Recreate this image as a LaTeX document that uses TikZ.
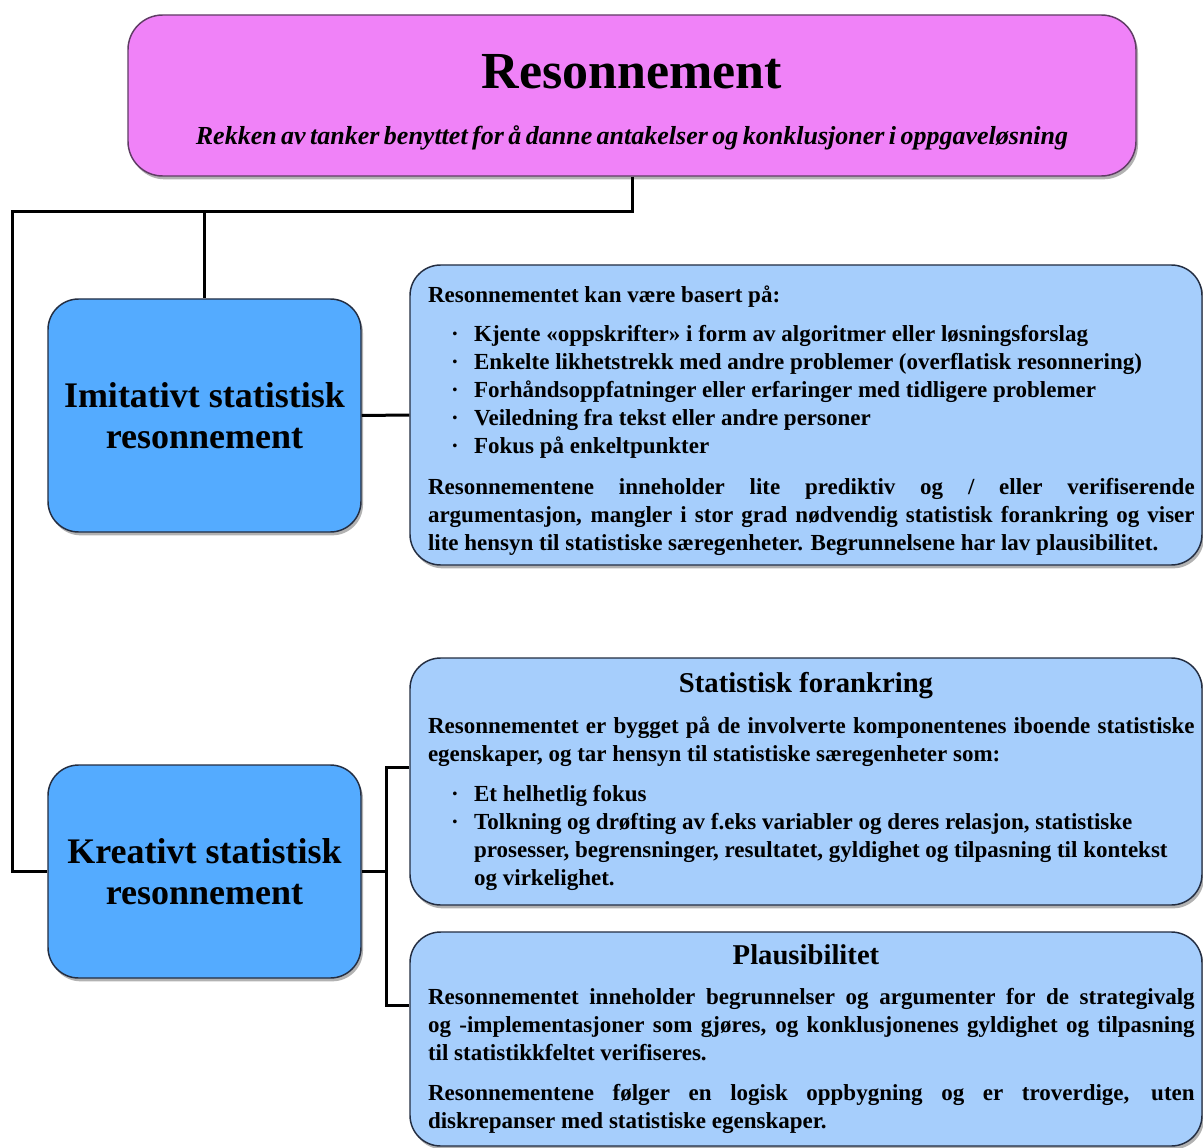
\documentclass[tikz,border=0pt]{standalone}
\usepackage{fontspec}
\setmainfont{Liberation Serif}
\usetikzlibrary{shadows}
\definecolor{pinkfill}{RGB}{240,130,248}
\definecolor{pinkdraw}{RGB}{95,60,100}
\definecolor{bluedark}{RGB}{84,171,255}
\definecolor{bluelight}{RGB}{166,206,252}
\definecolor{boxdraw}{RGB}{35,45,65}
\setlength\parskip{0pt}
\newcommand\shiftpar{\leftskip=4pt\rightskip=-4pt}
\newcommand\bitem[1]{\par{\raggedright\leftskip=38.6pt\noindent\llap{\makebox[17.2pt][l]{·}}#1\par}}
\begin{document}
\begin{tikzpicture}[x=0.75pt,y=-0.75pt,
  shadowed/.style={drop shadow={shadow xshift=1.5pt,shadow yshift=-2.5pt,opacity=0.5,fill=black!60}},
  topbox/.style={rounded corners=26pt, draw=pinkdraw, line width=1.1pt, fill=pinkfill,
    minimum width=756pt, minimum height=120.75pt, text width=740pt, align=center,
    inner xsep=8pt, inner ysep=0pt, shadowed},
  levelbox/.style={rounded corners=23pt, draw=boxdraw, line width=1.1pt, fill=bluedark,
    minimum width=234.75pt, align=center, font=\fontsize{27}{31}\selectfont\bfseries,
    inner sep=0pt, shadowed},
  infobox/.style={rounded corners=23pt, draw=boxdraw, line width=1.1pt, fill=bluelight,
    minimum width=594pt, text width=575pt, align=justify,
    font=\fontsize{17.25}{21}\selectfont\bfseries, inner xsep=9.5pt, inner ysep=0pt, shadowed},
  conn/.style={line width=2.25pt, black}]
\useasboundingbox (0,0) rectangle (1203,1148);
\fill[white] (0,0) rectangle (1203,1148);

\node[topbox] (top) at (632,95.5) {%
  {\fontsize{39}{39}\selectfont\bfseries\rule{0pt}{35pt}Resonnement\par}\vspace{19pt}%
  {\fontsize{19.5}{23}\selectfont\bfseries\itshape Rekken av tanker benyttet for å danne antakelser og konklusjoner i oppgaveløsning\par}};

\node[levelbox, minimum height=174.75pt] (imi) at (204.5,415.5) {Imitativt statistisk\\resonnement};
\node[levelbox, minimum height=159.75pt] (kre) at (204.5,871.5) {Kreativt statistisk\\resonnement};

\node[infobox, minimum height=225pt] (r1) at (806,415) {%
\shiftpar
\rule{0pt}{21pt}Resonnementet kan være basert på:\par\vspace{8.5pt}%
\bitem{Kjente «oppskrifter» i form av algoritmer eller løsningsforslag}%
\bitem{Enkelte likhetstrekk med andre problemer (overflatisk resonnering)}%
\bitem{Forhåndsoppfatninger eller erfaringer med tidligere problemer}%
\bitem{Veiledning fra tekst eller andre personer}%
\bitem{Fokus på enkeltpunkter}%
\vspace{9.5pt}%
Resonnementene inneholder lite prediktiv og / eller verifiserende\linebreak
argumentasjon, mangler i stor grad nødvendig statistisk forankring og viser\linebreak
lite hensyn til statistiske særegenheter. Begrunnelsene har lav plausibilitet.\par};

\node[infobox, minimum height=185.25pt] (r2) at (806,781.5) {%
{\fontsize{21.5}{25}\selectfont\centering Statistisk forankring\par}\vspace{10pt}%
\shiftpar
Resonnementet er bygget på de involverte komponentenes iboende statistiske\linebreak
egenskaper, og tar hensyn til statistiske særegenheter som:\par\vspace{9pt}%
\bitem{Et helhetlig fokus}%
\bitem{Tolkning og drøfting av f.eks variabler og deres relasjon, statistiske\newline
prosesser, begrensninger, resultatet, gyldighet og tilpasning til kontekst\newline
og virkelighet.}};

\node[infobox, minimum height=160.5pt] (r3) at (806,1039) {%
{\fontsize{21.5}{25}\selectfont\centering Plausibilitet\par}\vspace{9pt}%
\shiftpar
Resonnementet inneholder begrunnelser og argumenter for de strategivalg\linebreak
og -implementasjoner som gjøres, og konklusjonenes gyldighet og tilpasning\linebreak
til statistikkfeltet verifiseres.\par\vspace{9pt}%
Resonnementene følger en logisk oppbygning og er troverdige, uten\linebreak
diskrepanser med statistiske egenskaper.\par};

\coordinate (jtop) at (632,212);
\coordinate (jleft) at (12,212);
\coordinate (ka) at (386,767);
\coordinate (kb) at (386,1005);

\draw[conn] (top.south) -- (jtop) -- (jleft) |- (kre.west);
\draw[conn] (imi.north |- jtop) -- (imi.north);
\draw[conn] (imi.east) -- (r1.west);
\draw[conn] (kre.east) -- (kre.east -| ka);
\draw[conn] (r2.west |- ka) -- (ka) -- (kb) -- (r3.west |- kb);
\end{tikzpicture}
\end{document}
